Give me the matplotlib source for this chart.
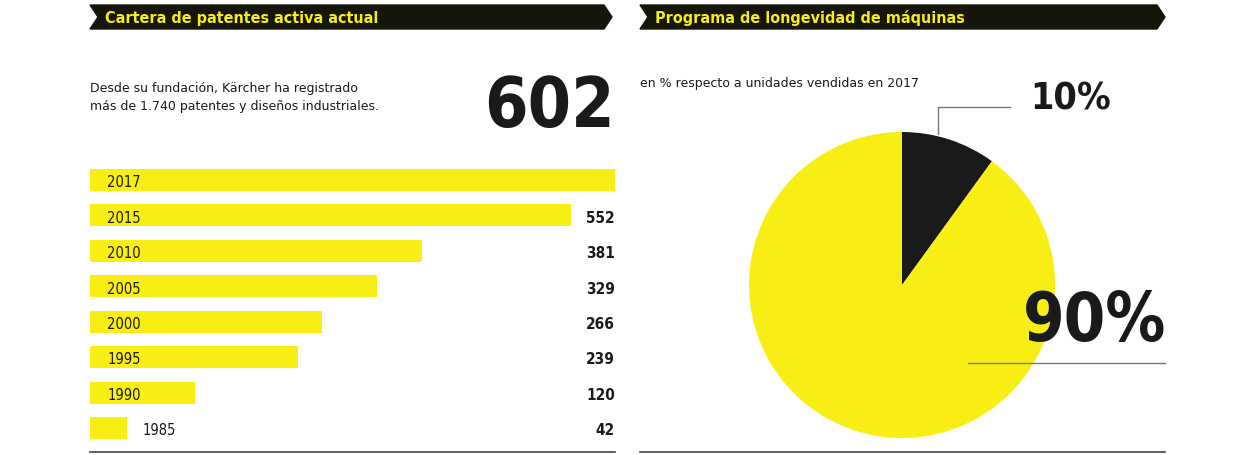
import matplotlib
matplotlib.use("Agg")
import matplotlib.pyplot as plt
from matplotlib.patches import Polygon

years = ["2017", "2015", "2010", "2005", "2000", "1995", "1990", "1985"]
patents = [602, 552, 381, 329, 266, 239, 120, 42]
pie_labels = ["10%", "90%"]
pie_values = [10, 90]

YEL = "#f9ee14"
BLK = "#1a1a1a"
NARROW = ["DejaVu Sans"]
W, H = 1260, 456

fig = plt.figure(figsize=(12.6, 4.56), dpi=100)
bg = fig.add_axes([0, 0, 1, 1])
bg.set_xlim(0, W); bg.set_ylim(H, 0); bg.axis("off")

def header(x0, x1, text):
    pts = [(x0, 6), (x1, 6), (x1 + 8, 18), (x1, 30), (x0, 30), (x0 + 8, 18)]
    bg.add_patch(Polygon(pts, closed=True, color="#15150a"))
    bg.text(x0 + 15, 18, text, color=YEL, fontsize=11.5, fontweight="bold",
            family=NARROW, fontstretch="condensed", va="center", ha="left")

header(90, 604, "Cartera de patentes activa actual")
header(640, 1157, "Programa de longevidad de máquinas")

bg.text(90, 82, "Desde su fundación, Kärcher ha registrado\nmás de 1.740 patentes y diseños industriales.",
        fontsize=9, va="top", ha="left", color=BLK, linespacing=1.5)
bg.text(615, 108, "602", fontsize=50, fontweight="bold", family=NARROW,
        fontstretch="condensed", ha="right", va="center", color=BLK)
bg.text(640, 83, "en % respecto a unidades vendidas en 2017", fontsize=9,
        va="center", ha="left", color=BLK)

bg.plot([90, 615], [453, 453], color="#444", lw=1.2)
bg.plot([640, 1165], [453, 453], color="#444", lw=1.2)

# Bars
top, bot = 163.3, 446.7
bax = fig.add_axes([90 / W, (H - bot) / H, 525 / W, (bot - top) / H])
bax.barh(range(len(years)), patents, height=0.62, color=YEL)
bax.set_xlim(0, 602); bax.set_ylim(7.5, -0.5); bax.axis("off")
for i, (y, v) in enumerate(zip(years, patents)):
    bax.text(20 if v > 60 else 60, i + 0.05, y, fontsize=10.5, family=NARROW,
             fontstretch="condensed", va="center", ha="left", color=BLK)
    if i > 0:
        bax.text(602, i + 0.05, str(v), fontsize=11, fontweight="bold", family=NARROW,
                 fontstretch="condensed", va="center", ha="right", color=BLK)

# Pie
cx, cy, r = 902, 286, 153
pax = fig.add_axes([(cx - r) / W, (H - cy - r) / H, 2 * r / W, 2 * r / H])
pax.pie(pie_values, colors=[BLK, YEL], startangle=90, counterclock=False,
        radius=1, wedgeprops=dict(linewidth=0))
pax.set_xlim(-1, 1); pax.set_ylim(-1, 1)
pax.set_aspect("equal"); pax.axis("off")

# Overlay
ov = fig.add_axes([0, 0, 1, 1])
ov.set_xlim(0, W); ov.set_ylim(H, 0); ov.axis("off")
ov.patch.set_alpha(0)
ov.plot([938, 938, 1010], [135, 108, 108], color="#777", lw=1)
ov.text(1030, 100, pie_labels[0], fontsize=27, fontweight="bold", family=NARROW,
        fontstretch="condensed", ha="left", va="center", color=BLK)
ov.plot([968, 1165], [364, 364], color="#777", lw=1)
ov.text(1166, 322, pie_labels[1], fontsize=48, fontweight="bold", family=NARROW,
        fontstretch="condensed", ha="right", va="center", color=BLK)

fig.savefig("out.png", dpi=100)
